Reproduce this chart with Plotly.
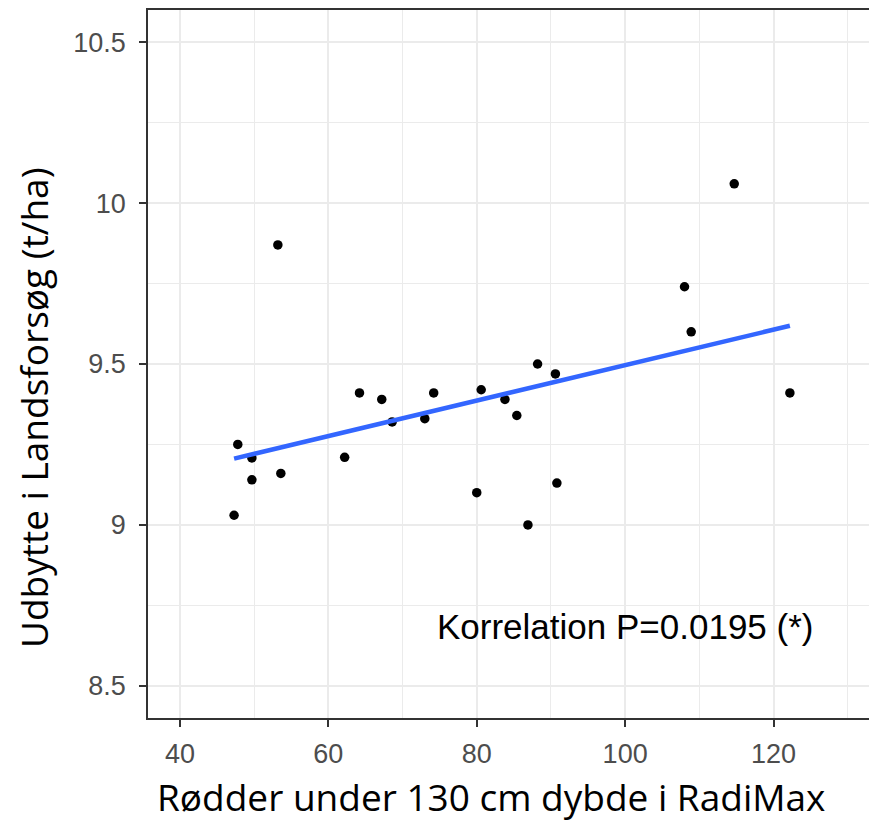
import numpy as np
import plotly.graph_objects as go

# Data
roots = [47.3, 47.8, 49.7, 49.7, 53.2, 53.6, 62.2, 64.2, 67.2, 68.6, 73.0, 74.2,
         80.0, 80.6, 83.8, 85.4, 86.9, 88.2, 90.6, 90.8, 108.0, 108.9, 114.7, 122.2]
yield_t = [9.03, 9.25, 9.208, 9.14, 9.87, 9.16, 9.21, 9.41, 9.39, 9.32, 9.33, 9.41,
           9.10, 9.42, 9.39, 9.34, 9.00, 9.50, 9.469, 9.13, 9.74, 9.60, 10.06, 9.41]
x_ticks = [40, 60, 80, 100, 120]
y_ticks = [8.5, 9, 9.5, 10, 10.5]
y_tick_text = ["8.5", "9", "9.5", "10", "10.5"]
annot_text = "Korrelation P=0.0195 (*)"
x_title = "Rødder under 130 cm dybde i RadiMax"
y_title = "Udbytte i Landsforsøg (t/ha)"

W, H = 869, 822
L, R, T, B = 148, 0, 10, 104

xa = np.array(roots)
ya = np.array(yield_t)
slope, intercept = np.polyfit(xa, ya, 1)
fx = np.array([xa.min(), xa.max()])
fy = intercept + slope * fx

fig = go.Figure()
fig.add_trace(go.Scatter(x=roots, y=yield_t, mode="markers",
                         marker=dict(color="black", size=9.5), showlegend=False))
fig.add_trace(go.Scatter(x=fx, y=fy, mode="lines",
                         line=dict(color="#3366FF", width=4.5), showlegend=False))

tickfont = dict(family="Liberation Sans, Arial, sans-serif", size=27, color="#4D4D4D")
fig.update_xaxes(range=[35.7, 132.86], tickvals=x_ticks, ticktext=[str(v) for v in x_ticks],
                 showgrid=True, gridcolor="#EBEBEB", gridwidth=1.6,
                 minor=dict(dtick=10, tick0=0, showgrid=True, gridcolor="#EBEBEB", gridwidth=0.8),
                 showline=True, linecolor="#333333", linewidth=1.5, mirror=True,
                 ticks="outside", ticklen=7, tickcolor="#333333", tickwidth=1.5,
                 tickfont=tickfont, zeroline=False, ticklabelstandoff=4)
fig.update_yaxes(range=[8.4, 10.6], tickvals=y_ticks, ticktext=y_tick_text,
                 showgrid=True, gridcolor="#EBEBEB", gridwidth=1.6,
                 minor=dict(dtick=0.25, tick0=0, showgrid=True, gridcolor="#EBEBEB", gridwidth=0.8),
                 showline=True, linecolor="#333333", linewidth=1.5, mirror=False,
                 ticks="outside", ticklen=7, tickcolor="#333333", tickwidth=1.5,
                 tickfont=tickfont, zeroline=False, ticklabelstandoff=8)

pw = W - L - R
ph = H - T - B
fig.add_annotation(x=100, y=8.683, xref="x", yref="y", text=annot_text, showarrow=False,
                   font=dict(family="Liberation Sans, Arial, sans-serif", size=35, color="black"))
title_font = dict(family="Open Sans, Noto Sans, sans-serif", size=37, color="black")
fig.add_annotation(x=(491 - L) / pw, y=-(796 - (H - B)) / ph, xref="paper", yref="paper",
                   text=x_title, showarrow=False, font=title_font,
                   xanchor="center", yanchor="middle")
fig.add_annotation(x=-(L - 33) / pw, y=((H - B) - 408) / ph, xref="paper", yref="paper",
                   text=y_title, showarrow=False, font=title_font, textangle=-90,
                   xanchor="center", yanchor="middle")

fig.update_layout(width=W, height=H, margin=dict(l=L, r=R, t=T, b=B),
                  plot_bgcolor="white", paper_bgcolor="white", showlegend=False)
fig.write_html("out.html")
